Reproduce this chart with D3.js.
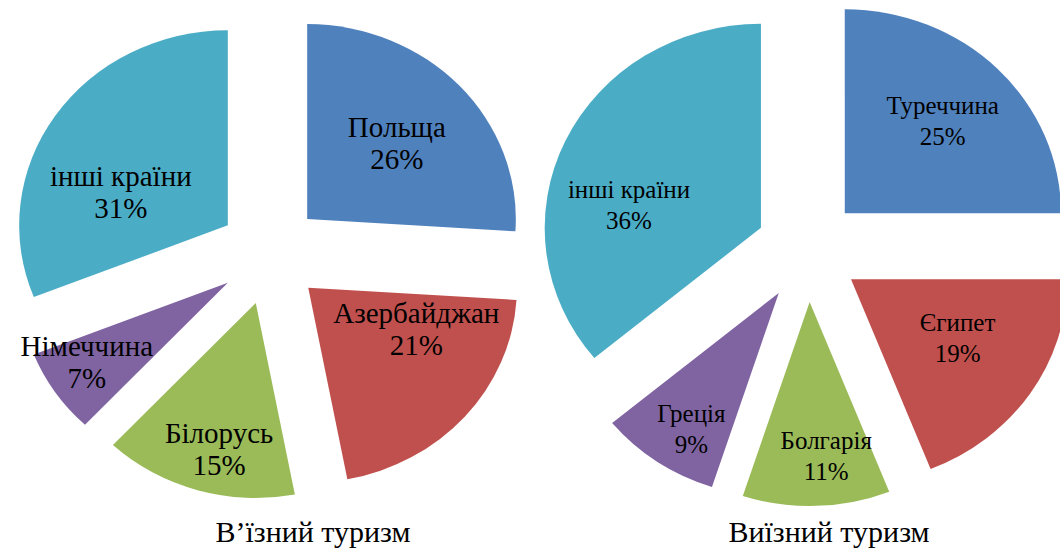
<!DOCTYPE html>
<html>
<head>
<meta charset="utf-8">
<script src="https://cdn.jsdelivr.net/npm/d3@7"></script>
<style>
  body { margin: 0; background: #fff; }
</style>
</head>
<body>
<svg id="chart" width="1060" height="551"></svg>
<script>
// Shares in percent.
const inboundCountries = ["Польща", "Азербайджан", "Білорусь", "Німеччина", "інші країни"];
const inboundShares = [26, 21, 15, 7, 31];
const outboundCountries = ["Туреччина", "Єгипет", "Болгарія", "Греція", "інші країни"];
const outboundShares = [25, 19, 11, 9, 36];
const sliceColors = ["#4F81BD", "#C0504D", "#9BBB59", "#8064A2", "#4BACC6"];
const chartTitles = ["В’їзний туризм", "Виїзний туризм"];

// Note: letter-spacing or a scaled text transform makes the renderer drop
// back to a sans face, so the text is left plain.
const serif = '"Liberation Serif"';

// Layout for each pie: centre, radius, horizontal stretch, how far slices
// are pulled out, and a per-slice label nudge [angle offset deg, radius fraction]
// (Excel's "best fit" moves the long labels around a bit).
const pies = [
    {
        names: inboundCountries, values: inboundShares, title: chartTitles[0],
        cx: 270, cy: 254, r: 195, sx: 1.07, explode: 51, font: 29, lineGap: 32,
        titleX: 313,
        nudge: [[1, 0.58], [-19, 0.56], [-3, 0.77], [3, 0.79], [-16, 0.54]]
    },
    {
        names: outboundCountries, values: outboundShares, title: chartTitles[1],
        cx: 808, cy: 250, r: 204, sx: 1.06, explode: 52, font: 25, lineGap: 31,
        titleX: 829,
        nudge: [[0, 0.64], [-4, 0.57], [-4, 0.76], [-3, 0.78], [-15, 0.62]]
    }
];

const svg = d3.select("#chart");

function drawPie(cfg) {
    const pie = d3.pie().sort(null).value((d) => d)(cfg.values),
        arc = d3.arc().innerRadius(0).outerRadius(cfg.r);

    const g = svg.append("g");

    // Each wedge sits in its own group, pulled out along its mid angle.
    const slice = g.selectAll("g.slice")
        .data(pie)
        .enter()
        .append("g")
        .attr("class", "slice")
        .attr("transform", (d) => {
            const mid = (d.startAngle + d.endAngle) / 2;
            return `translate(${cfg.cx + cfg.explode * Math.sin(mid)},${cfg.cy - cfg.explode * Math.cos(mid)})`;
        });

    // The original is slightly wider than tall, so stretch the wedges only.
    slice.append("path")
        .attr("d", arc)
        .attr("transform", `scale(${cfg.sx},1)`)
        .attr("fill", (d, i) => sliceColors[i]);

    const label = slice.append("text")
        .attr("text-anchor", "middle")
        .style("font-family", serif)
        .style("font-size", cfg.font + "px")
        .attr("fill", "#000")
        .attr("transform", (d, i) => {
            const a = (d.startAngle + d.endAngle) / 2 + cfg.nudge[i][0] * Math.PI / 180,
                rr = cfg.r * cfg.nudge[i][1];
            return `translate(${cfg.sx * rr * Math.sin(a)},${-rr * Math.cos(a)})`;
        });

    label.append("tspan")
        .attr("x", 0)
        .attr("y", -cfg.lineGap / 2)
        .attr("dominant-baseline", "central")
        .text((d, i) => cfg.names[i]);

    label.append("tspan")
        .attr("x", 0)
        .attr("y", cfg.lineGap / 2)
        .attr("dominant-baseline", "central")
        .text((d) => d.data + "%");

    svg.append("text")
        .attr("x", cfg.titleX)
        .attr("y", 542)
        .attr("text-anchor", "middle")
        .style("font-family", serif)
        .style("font-size", "30px")
        .attr("fill", "#000")
        .text(cfg.title);
}

pies.forEach(drawPie);
</script>
</body>
</html>
